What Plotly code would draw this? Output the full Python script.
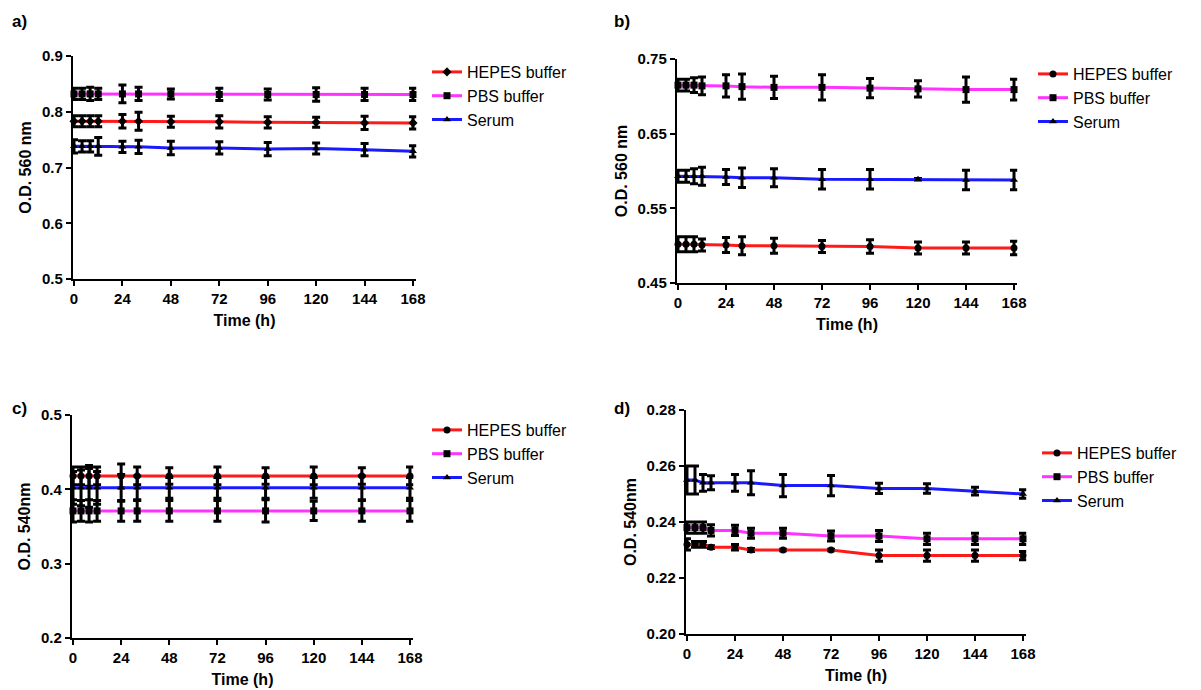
import plotly.graph_objects as go

W, H = 1201, 690

time_h = [0, 4, 8, 12, 24, 32, 48, 72, 96, 120, 144, 168]
series_names = ["HEPES buffer", "PBS buffer", "Serum"]

# Panel a
a_hepes = [0.783, 0.783, 0.783, 0.783, 0.783, 0.783, 0.782, 0.782, 0.781, 0.781, 0.780, 0.780]
a_hepes_err = [0.010, 0.010, 0.010, 0.010, 0.012, 0.016, 0.010, 0.011, 0.010, 0.009, 0.012, 0.011]
a_pbs = [0.832, 0.832, 0.832, 0.832, 0.832, 0.832, 0.832, 0.831, 0.831, 0.831, 0.831, 0.831]
a_pbs_err = [0.010, 0.010, 0.012, 0.010, 0.016, 0.012, 0.009, 0.011, 0.010, 0.012, 0.011, 0.011]
a_serum = [0.738, 0.738, 0.738, 0.738, 0.737, 0.737, 0.735, 0.735, 0.733, 0.734, 0.732, 0.729]
a_serum_err = [0.012, 0.010, 0.010, 0.016, 0.010, 0.012, 0.012, 0.011, 0.012, 0.010, 0.011, 0.010]

# Panel b
b_hepes = [0.502, 0.502, 0.502, 0.501, 0.501, 0.500, 0.500, 0.499, 0.499, 0.497, 0.497, 0.497]
b_hepes_err = [0.010, 0.010, 0.010, 0.008, 0.010, 0.012, 0.010, 0.008, 0.009, 0.008, 0.008, 0.009]
b_pbs = [0.715, 0.715, 0.715, 0.714, 0.714, 0.713, 0.712, 0.712, 0.711, 0.710, 0.709, 0.709]
b_pbs_err = [0.008, 0.008, 0.010, 0.012, 0.015, 0.017, 0.015, 0.017, 0.013, 0.011, 0.017, 0.014]
b_serum = [0.593, 0.593, 0.593, 0.593, 0.592, 0.591, 0.591, 0.589, 0.589, 0.589, 0.588, 0.588]
b_serum_err = [0.008, 0.008, 0.010, 0.012, 0.010, 0.013, 0.012, 0.013, 0.013, 0.001, 0.013, 0.013]

# Panel c
c_hepes = [0.418, 0.418, 0.418, 0.418, 0.418, 0.418, 0.418, 0.418, 0.418, 0.418, 0.418, 0.418]
c_hepes_err = [0.012, 0.012, 0.014, 0.012, 0.016, 0.012, 0.011, 0.012, 0.011, 0.012, 0.011, 0.012]
c_pbs = [0.371, 0.371, 0.371, 0.371, 0.371, 0.371, 0.371, 0.371, 0.371, 0.371, 0.371, 0.371]
c_pbs_err = [0.015, 0.014, 0.015, 0.014, 0.014, 0.014, 0.014, 0.014, 0.015, 0.013, 0.014, 0.014]
c_serum = [0.402, 0.402, 0.402, 0.402, 0.402, 0.402, 0.402, 0.402, 0.402, 0.402, 0.402, 0.402]
c_serum_err = [0.022, 0.024, 0.026, 0.022, 0.018, 0.016, 0.014, 0.014, 0.014, 0.014, 0.016, 0.014]

# Panel d
d_hepes = [0.232, 0.232, 0.232, 0.231, 0.231, 0.230, 0.230, 0.230, 0.228, 0.228, 0.228, 0.228]
d_hepes_err = [0.0020, 0.0010, 0.0010, 0.0005, 0.0010, 0.0005, 0.0003, 0.0003, 0.0020, 0.0020, 0.0020, 0.0015]
d_pbs = [0.238, 0.238, 0.238, 0.237, 0.237, 0.236, 0.236, 0.235, 0.235, 0.234, 0.234, 0.234]
d_pbs_err = [0.0020, 0.0020, 0.0020, 0.0020, 0.0018, 0.0018, 0.0018, 0.0018, 0.0020, 0.0020, 0.0020, 0.0020]
d_serum = [0.255, 0.255, 0.254, 0.254, 0.254, 0.254, 0.253, 0.253, 0.252, 0.252, 0.251, 0.250]
d_serum_err = [0.0050, 0.0050, 0.0030, 0.0025, 0.0030, 0.0043, 0.0040, 0.0036, 0.0018, 0.0017, 0.0014, 0.0015]

x_ticks = [0, 24, 48, 72, 96, 120, 144, 168]
colors = ["#ff1a1a", "#ff33ff", "#1a1aff"]
FONT = "Arial, Liberation Sans, Helvetica, sans-serif"

panels = [
    dict(label="a)", data=[(a_hepes, a_hepes_err), (a_pbs, a_pbs_err), (a_serum, a_serum_err)],
         yr=[0.5, 0.9], dtick=0.1, tick0=0.5, fmt=".1f", ytitle="O.D. 560 nm",
         box=(74, 413, 56, 279), leg=(427, 55), hsym="diamond", lab=(10, 22)),
    dict(label="b)", data=[(b_hepes, b_hepes_err), (b_pbs, b_pbs_err), (b_serum, b_serum_err)],
         yr=[0.45, 0.75], dtick=0.1, tick0=0.45, fmt=".2f", ytitle="O.D. 560 nm",
         box=(678, 1014, 59, 283), leg=(1033, 57), hsym="circle", lab=(612, 22)),
    dict(label="c)", data=[(c_hepes, c_hepes_err), (c_pbs, c_pbs_err), (c_serum, c_serum_err)],
         yr=[0.2, 0.5], dtick=0.1, tick0=0.2, fmt=".1f", ytitle="O.D. 540nm",
         box=(73, 410, 415, 638), leg=(427, 413), hsym="circle", lab=(10, 408)),
    dict(label="d)", data=[(d_hepes, d_hepes_err), (d_pbs, d_pbs_err), (d_serum, d_serum_err)],
         yr=[0.20, 0.28], dtick=0.02, tick0=0.20, fmt=".2f", ytitle="O.D. 540nm",
         box=(687, 1023, 410, 634), leg=(1037, 436), hsym="circle", lab=(612, 408)),
]

X_LO, X_HI = -0.6, 169.6

fig = go.Figure()
annotations = []
layout_upd = {}

for i, p in enumerate(panels):
    n = "" if i == 0 else str(i + 1)
    xa, ya = "x" + n, "y" + n
    leg = "legend" + n
    symbols = [p["hsym"], "square", "triangle-up"]
    for k, (vals, errs) in enumerate(p["data"]):
        fig.add_trace(go.Scatter(
            x=time_h, y=vals, mode="lines+markers", name=series_names[k],
            xaxis=xa, yaxis=ya, legend=leg, cliponaxis=False,
            line=dict(color=colors[k], width=3),
            marker=dict(color="black", symbol=symbols[k], size=7),
            error_y=dict(type="data", array=errs, visible=True, color="black",
                         thickness=3, width=4),
        ))
    l, r, t, b = p["box"]
    pxh = (r - l) / 168.0
    l2 = l + X_LO * pxh
    r2 = r + (X_HI - 168) * pxh
    layout_upd["xaxis" + n] = dict(
        domain=[l2 / W, r2 / W], anchor=ya, range=[X_LO, X_HI], tickvals=x_ticks,
        showline=True, linecolor="black", linewidth=2, ticks="outside",
        ticklen=5, tickwidth=2, tickcolor="black", showgrid=False, zeroline=False,
        automargin=False,
        tickfont=dict(family=FONT, size=15, color="black", weight="bold"),
        title=dict(text="<b>Time (h)</b>", font=dict(family=FONT, size=16, color="black"),
                   standoff=9),
    )
    layout_upd["yaxis" + n] = dict(
        domain=[1 - b / H, 1 - t / H], anchor=xa, range=p["yr"], tick0=p["tick0"],
        dtick=p["dtick"], tickformat=p["fmt"],
        showline=True, linecolor="black", linewidth=2, ticks="outside",
        ticklen=5, tickwidth=2, tickcolor="black", showgrid=False, zeroline=False,
        automargin=False,
        tickfont=dict(family=FONT, size=15, color="black", weight="bold"),
        title=dict(text="<b>" + p["ytitle"] + "</b>", font=dict(family=FONT, size=16, color="black"),
                   standoff=6),
    )
    lx, ly = p["leg"]
    layout_upd[leg] = dict(
        x=lx / W, y=1 - ly / H, xanchor="left", yanchor="top",
        bgcolor="rgba(0,0,0,0)", font=dict(family=FONT, size=16, color="black"),
        itemwidth=30, tracegroupgap=0,
    )
    ax, ay = p["lab"]
    annotations.append(dict(
        text="<b>" + p["label"] + "</b>", x=ax / W, y=1 - ay / H, xref="paper", yref="paper",
        xanchor="left", yanchor="middle", showarrow=False,
        font=dict(family=FONT, size=17, color="black"),
    ))

fig.update_layout(
    width=W, height=H, margin=dict(l=0, r=0, t=0, b=0),
    paper_bgcolor="white", plot_bgcolor="white",
    annotations=annotations, **layout_upd,
)

fig.write_html("out.html", config={"displayModeBar": False},
               post_script="document.body.style.margin='0';document.body.style.padding='0';")
